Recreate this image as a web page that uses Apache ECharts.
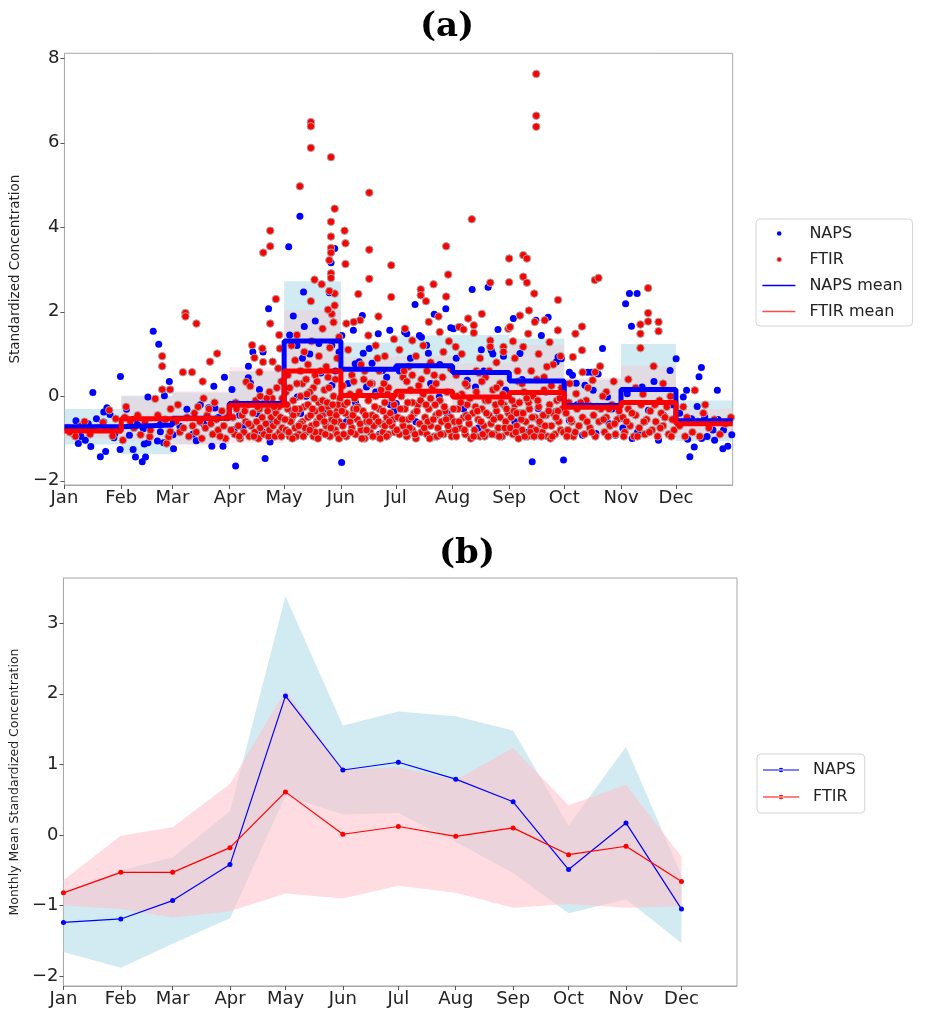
<!DOCTYPE html>
<html>
<head>
<meta charset="utf-8">
<script src="https://cdn.jsdelivr.net/npm/echarts@6/dist/echarts.min.js"></script>
<style>
html,body{margin:0;padding:0;background:#fff;}
#c{width:925px;height:1019px;}
</style>
</head>
<body>
<div id="c"></div>
<script>
// ---------- data ----------
const monthNames = ['Jan','Feb','Mar','Apr','May','Jun','Jul','Aug','Sep','Oct','Nov','Dec'];
const monthStarts = [0,31,59,90,120,151,181,212,243,273,304,334];
const yTicksA = [-2,0,2,4,6,8];
const yTicksB = [-2,-1,0,1,2,3];

// panel (a) monthly means (step lines)
const napsMeanA = [-0.72,-0.68,-0.52,-0.17,1.31,0.64,0.72,0.56,0.36,-0.22,0.16,-0.58];
const ftirMeanA = [-0.82,-0.53,-0.52,-0.21,0.60,0.02,0.12,-0.02,0.09,-0.26,-0.15,-0.65];
// panel (b) monthly means
const napsMeanB = [-1.24,-1.19,-0.93,-0.42,1.97,0.92,1.03,0.79,0.47,-0.49,0.17,-1.05];
const ftirMeanB = [-0.82,-0.53,-0.53,-0.18,0.61,0.01,0.12,-0.02,0.10,-0.28,-0.16,-0.66];
// monthly standard deviations (shaded bands)
const napsStd = [0.42,0.69,0.61,0.76,1.41,0.63,0.72,0.89,1.01,0.62,1.08,0.48];
const ftirStd = [0.18,0.52,0.64,0.90,1.44,0.91,0.84,0.80,1.13,0.70,0.87,0.35];

// panel (a) individual samples: [day of year, standardized concentration]
const napsPoints = [
[2,-0.78],[4,-0.87],[6.3,-0.58],[7.6,-1.12],[9,-0.95],[11.4,-1.04],[13,-0.65],[14.4,-1.19],[15.5,0.09],[17.5,-0.53],[19.6,-1.43],[21.5,-0.37],[21.5,-0.61],[22.5,-1.31],[23.2,-0.27],[24.9,-0.43],[27,-0.98],[27.6,-0.88],[30.4,-1.26],[30.6,0.47],
[33.9,-0.31],[35.5,-0.92],[37.5,-0.55],[37.5,-1.26],[38.8,-1.44],[39.8,-0.67],[42.5,-1.55],[43.1,-0.77],[43.6,-1.13],[44.3,-1.44],[45.6,-1.10],[45.6,-0.02],[48.5,1.54],[50.8,-1.06],[51.5,1.23],[52.4,-0.66],[52.4,-0.84],[54.2,-1.10],[54.6,0.01],[57.3,0.35],
[59.3,-0.91],[59.6,-1.24],[63.1,-0.71],[66.1,1.93],[66.9,-0.31],[70,-0.9],[72,-1.05],[74.2,-0.20],[76,-0.65],[78.8,-0.27],[80.5,-1.18],[81.6,0.24],[82.2,-0.28],[84,-0.5],[86.6,-1.18],[87.4,0.45],
[91.5,0.16],[92.6,-0.79],[93.5,-1.65],[93.9,-0.16],[95.7,-0.45],[97.5,-0.73],[100.4,0.44],[100.5,0.71],[101.6,0.31],[102.9,1.05],[105,-0.41],[106.5,0.16],[108.1,-0.84],[108.5,1.05],[109.6,-1.47],[111.5,2.07],[112.3,-1.08],[113.7,-0.61],[115,-0.3],[117.8,-0.84],
[122.5,3.54],[128.6,4.26],[147.6,3.50],[145.6,3.16],[130.6,2.47],[144.7,2.45],[125,1.9],[131,1.65],[137,1.78],[134,1.0],[123,1.45],[128,0.3],[132,0.0],[124,-0.35],[130,0.9],[140,0.55],[146,1.2],[148,0.6],[142,-0.4],[127,1.2],[139,1.25],[127.2,-0.02],[129,-0.41],[146.1,0.26],[150,1.05],
[151.4,-1.57],[151.5,1.44],[157.8,1.56],[162.7,1.91],[171.4,1.48],[177.7,1.56],[163.2,1.02],[166.5,1.13],[158.8,0.77],[161,0.82],[168,0.78],[173.7,0.61],[165,0.22],[170,0.1],[176,0.45],[155,0.3],[180,-0.35],[154,-0.6],[172,-0.9],[178,-0.2],[159,-0.15],
[191.5,2.17],[185.8,1.52],[187,1.48],[193.9,1.44],[195,1.4],[197.8,1.21],[198.8,1.02],[208.3,2.07],[202,1.94],[189,0.9],[205,0.75],[183,0.6],[200,0.3],[204.7,-0.02],[181.2,-0.17],[192,-0.6],[209,-0.4],[211,1.62],
[222.7,2.53],[216.4,1.64],[227.7,1.1],[233.1,1.09],[234,1.0],[236.8,1.58],[239.8,0.95],[231.4,2.58],[220,0.38],[224.5,0.22],[214,0.9],[229,0.6],[241,0.15],[218,-0.3],[226,-0.75],[237,-0.5],[212.5,1.6],
[245.2,1.84],[257.5,1.8],[264.2,1.87],[260.5,1.44],[269.6,0.93],[271.4,0.89],[255.5,-1.55],[248.8,1.01],[268.6,0.81],[272.6,-1.51],[267.7,-0.37],[258.8,-0.29],[250,0.4],[246,-0.6],[263,0.1],[253,-0.85],
[275.8,0.57],[277.5,0.5],[285.8,0.57],[288,0.57],[288.8,0.14],[284.3,0.26],[291.5,0.53],[296.6,-0.02],[283,-0.92],[290.3,-0.88],[297.5,-0.65],[301,-0.92],[302.9,-0.53],[293.9,1.13],[275.8,-0.57],[279.5,0.31],[280,-0.2],[299,-0.3],
[306.5,2.19],[308.6,2.43],[312.8,2.43],[309.7,1.66],[315.5,0.22],[330.8,0.61],[334.1,0.89],[324.5,-1.04],[310.1,-1.0],[307.4,0.06],[319,-0.33],[327.2,-0.45],[305,-0.75],[313,-0.85],[322,0.35],[332,-0.2],[317,-0.6],
[347.9,0.68],[346.6,0.46],[339.8,0.14],[356.6,0.14],[338,-0.02],[345.6,-0.24],[342.5,-0.53],[349.7,-0.49],[354.2,-0.8],[341.6,-1.43],[344,-1.2],[340.4,-1.02],[355.1,-1.04],[359.6,-1.24],[362.3,-1.18],[364.5,-0.91],[351,-0.95],[348,-1.0],[352,-0.65],[357,-0.55],[360,-0.8],[336,-0.4]
];

const ftirPoints = [
[2,-0.75],[3,-0.85],[6,-0.95],[9,-0.7],[11,-0.6],[14,-0.9],[18,-0.75],[21,-0.62],[24.5,-0.33],[26.3,-0.94],[28,-0.53],[30,-0.8],
[31.9,-1.04],[33,-0.5],[33.7,-0.25],[36,-0.6],[38,-0.75],[40,-0.45],[41.6,-0.91],[44,-0.6],[46.6,-0.96],[47,-0.8],[49.6,-0.06],[51,-0.45],[53.4,0.95],[53.4,0.71],[53.4,0.16],[55,-0.55],[55.8,-1.12],[56.9,-0.96],[57.7,0.16],[57.8,-0.84],[58,-0.3],
[66.1,1.97],[66.1,1.89],[72.1,1.72],[64.7,0.57],[69.7,0.57],[75.5,0.35],[79.5,0.82],[83.4,1.01],[61,-0.6],[63,-0.85],[65,-0.75],[67,-0.5],[68,-0.95],[70,-0.7],[71,-0.4],[72,-0.85],[74,-0.6],[75,-1.0],[77,-0.75],[78,-0.45],[80,-0.65],[81,-0.9],[83,-0.55],[84,-0.8],[86,-0.35],[87,-0.7],[88,-1.0],[89,-0.5],[73,-0.25],[82,-0.15],[85,-0.95],[79,-0.3],[62,-0.2],[76,-0.05],
[102.5,1.21],[103.8,0.91],[108.1,1.13],[112.4,1.72],[117.3,1.45],[117.7,1.13],[116.8,0.66],[113.7,0.82],[106.5,0.57],[108.5,0.81],[99.3,0.34],[101.5,0.24],[108.6,3.40],[112.4,3.55],[112.4,3.92],[115.5,2.30],
[92,-0.5],[93,-0.9],[94,-0.3],[95,-0.7],[96,-1.0],[97,-0.45],[98,-0.85],[99,-0.6],[100,-0.2],[101,-0.95],[102,-0.7],[103,-0.4],[104,-0.85],[104.5,-0.1],[105,-0.6],[106,-1.0],[106.5,-0.3],[107,-0.75],[108,-0.5],[109,-0.9],[109.5,-0.15],[110,-0.65],[111,-0.35],[111.5,-0.95],[112,-0.8],[113,-0.5],[113.5,-0.05],[114,-0.7],[115,-0.95],[115.5,-0.4],[116,-0.6],[117,-0.25],[117.5,-0.85],[118,-0.5],[119,-0.75],[119,-0.05],[118.5,0.35],[116,0.2],[112,0.1],[107,0.0],
[91,-0.8],[93.5,-0.15],[95.5,-0.95],[98.5,-0.35],[100.5,-0.65],[103.5,-0.95],[105.5,-0.25],[110.5,-0.05],[114.5,-0.25],[118.5,-0.95],
[134.6,6.49],[134.6,6.39],[134.6,5.88],[128.6,4.97],[145.6,5.66],[147.6,4.44],[145.6,4.13],[145.6,3.78],[145.6,3.51],[145.6,3.40],[144.7,3.22],[136.6,2.76],[140.5,2.65],[145.6,2.91],[145.6,2.80],[134.6,2.25],[147.6,2.43],[144.7,2.49],[147.6,2.15],
[124,1.2],[126,0.85],[127,1.45],[129,0.6],[131,1.05],[133,0.75],[135,1.3],[137,0.5],[139,0.95],[141,1.6],[143,0.7],[145,1.15],[147,1.75],[148,0.4],[149,0.9],[150,1.4],[146,1.95],[144,2.05],[130,0.3],[136,0.2],[122,0.5],
[121,-0.8],[122,-0.3],[123,-0.95],[124,-0.55],[125,-0.1],[126,-0.75],[127,-0.4],[128,-0.9],[129,0.0],[130,-0.6],[131,-0.25],[132,-0.85],[133,-0.5],[134,0.1],[135,-0.7],[136,-0.95],[137,-0.35],[138,-0.6],[139,-0.15],[140,-0.85],[141,-0.45],[142,0.15],[143,-0.7],[144,-0.25],[145,-0.95],[146,-0.55],[147,0.0],[148,-0.8],[149,-0.35],[150,-0.6],[150.5,-0.05],[127,0.3],[132,0.4],[138,0.35],[144,0.45],[121,0.1],[125,-0.45],[129,-0.65],[133,-0.2],[137,-0.85],[141,-0.1],[145,-0.4],[149,-0.9],
[121.5,-0.2],[123.5,-0.6],[126.5,-0.95],[128.5,-0.3],[131.5,-0.75],[134.5,-0.45],[136.5,-0.05],[139.5,-0.5],[142.5,-0.9],[144.5,0.2],[147.5,-0.6],[149.5,-0.2],
[120.5,-0.55],[122.5,-0.85],[124.5,-1.0],[126,-0.3],[128,-0.7],[130.5,-0.95],[132.5,0.05],[134,-0.8],[135.5,-0.3],[137.5,-0.65],[138.5,-1.0],[140.5,-0.3],[142,-0.6],[143.5,-0.15],[145.5,-0.75],[146.5,-0.2],[148.5,-0.45],[150,-1.0],[123,0.2],[140,0.6],
[153,3.92],[153.5,3.62],[153.5,3.13],[160.5,2.42],[166.5,4.82],[166.5,3.47],[166.5,2.78],[178.5,3.1],[178.5,2.35],[171.5,1.89],[161.5,1.8],[158,1.76],[154,1.72],[166,1.44],[170,1.2],[155,1.1],[175,0.95],[162,0.75],[157,0.5],[172,0.6],[180,1.35],[168,0.3],[152,0.25],[177,0.2],
[152,-0.7],[153,-0.2],[154,-0.95],[155,-0.45],[156,0.05],[157,-0.75],[158,-0.3],[159,-0.9],[160,-0.55],[161,0.1],[162,-0.8],[163,-0.35],[164,-1.0],[165,-0.6],[166,-0.1],[167,-0.85],[168,-0.45],[169,-0.7],[170,0.0],[171,-0.95],[172,-0.3],[173,-0.65],[174,-0.85],[175,-0.15],[176,-0.5],[177,-0.9],[178,-0.4],[179,-0.7],[180,-0.2],[160,-0.25],[165,-0.8],[170,-0.5],[175,-0.7],[156,-0.6],[167,0.3],[173,0.15],
[153.5,-0.4],[158.5,-0.05],[163.5,0.4],[168.5,-0.95],[174.5,0.3],[179.5,-0.55],[161.5,-0.65],[176.5,0.05],
[151.5,-0.35],[152.5,-0.9],[154.5,-0.15],[156.5,-0.85],[157.5,-0.45],[159.5,-0.3],[162.5,-1.0],[164.5,-0.45],[166.5,-0.6],[169.5,-0.25],[171.5,-0.6],[172.5,-1.0],[174,-0.35],[176,-0.95],[177.5,-0.6],[179,-0.05],[180.5,-0.85],[158,0.35],[164,0.6],[171,0.9],
[194.6,2.53],[194.6,2.39],[197.5,2.25],[201.6,2.65],[208.5,3.55],[209.6,2.88],[208.5,2.36],[199,1.76],[205,1.52],[204.3,1.89],[190,1.32],[186,1.6],[183,1.1],[192,0.95],[196,1.2],[200,0.8],[207,1.05],[210,1.3],[188,0.7],[185,0.45],[202,0.5],[211,0.65],
[182,-0.5],[183,-0.9],[184,0.0],[185,-0.7],[186,-0.3],[187,-0.95],[188,-0.55],[189,0.15],[190,-0.8],[191,-0.4],[192,-1.0],[193,-0.2],[194,-0.65],[195,-0.85],[196,0.05],[197,-0.5],[198,-0.9],[199,-0.3],[200,-0.7],[201,0.2],[202,-0.95],[203,-0.45],[204,-0.75],[205,-0.1],[206,-0.6],[207,-0.9],[208,-0.35],[209,0.1],[210,-0.8],[211,-0.5],[187,0.35],[195,0.4],[203,0.3],[190,-0.15],[200,-0.05],
[183.5,-0.3],[188.5,-0.75],[193.5,0.25],[198.5,-0.6],[203.5,-0.95],[208.5,-0.55],[185.5,0.6],[206.5,0.45],
[181.5,-0.8],[184.5,-0.55],[186.5,-0.85],[187.5,-0.15],[189.5,-0.5],[191.5,-0.9],[192.5,-0.35],[194.5,-0.1],[196.5,-0.75],[197.5,-0.2],[199.5,-1.0],[201.5,-0.55],[202.5,-0.2],[204.5,-0.4],[205.5,-0.9],[207.5,-0.25],[209.5,-0.7],[211.5,-0.95],[190,0.5],[198,0.6],
[222.5,4.19],[232.6,2.69],[220.5,1.84],[215.5,1.64],[218,1.58],[223.6,1.68],[223.6,1.5],[213.7,1.17],[232.6,1.32],[232.6,1.17],[239.8,1.17],[239.8,1.05],[242.5,1.6],[228,1.95],[227,0.9],[236,0.8],[217,1.0],[225,0.6],[230,0.45],[214,0.5],[238,0.3],[220,0.25],
[213,-0.6],[214,-0.95],[215,-0.3],[216,-0.75],[217,0.05],[218,-0.5],[219,-0.9],[220,-0.2],[221,-0.65],[222,-1.0],[223,-0.4],[224,-0.8],[225,0.1],[226,-0.55],[227,-0.95],[228,-0.3],[229,-0.7],[230,-0.1],[231,-0.85],[232,-0.45],[233,-0.65],[234,0.15],[235,-0.9],[236,-0.35],[237,-0.75],[238,-0.5],[239,-0.95],[240,-0.2],[241,-0.6],[242,-0.85],[219,0.3],[228,0.35],[236,0.2],
[214.5,0.0],[219.5,-0.45],[224.5,-0.25],[229.5,-0.95],[234.5,-0.55],[239.5,0.05],[242.5,-0.4],[226.5,0.55],
[212.5,-0.3],[213.5,-0.8],[215.5,-0.6],[216.5,-0.15],[218.5,-0.8],[220.5,-0.5],[221.5,-0.05],[223.5,-0.95],[225.5,-0.35],[227.5,-0.6],[228.5,-0.9],[230.5,-0.4],[231.5,-0.1],[233.5,-0.9],[235.5,-0.2],[237.5,-0.95],[238.5,-0.15],[240.5,-0.75],[241.5,-0.3],[232,0.6],
[257.7,7.63],[257.7,6.64],[257.7,6.38],[242.9,3.26],[242.9,2.7],[250.6,3.34],[252.6,3.26],[250.6,2.83],[252.6,2.69],[256.6,2.43],[269.6,2.28],[243.4,1.64],[248.8,1.91],[250.6,1.17],[253.3,1.48],[253.7,2.03],[256.9,1.76],[262.3,1.8],[265,1.28],[269.5,1.56],[246,0.9],[259,1.0],[267,0.75],[255,0.6],[262,0.45],[271,0.95],[248,0.35],[245,1.3],
[244,-0.5],[245,-0.9],[246,-0.2],[247,-0.7],[248,-1.0],[249,-0.4],[250,-0.8],[251,0.1],[252,-0.6],[253,-0.95],[254,-0.3],[255,-0.75],[256,0.0],[257,-0.5],[258,-0.9],[259,-0.25],[260,-0.65],[261,-0.85],[262,0.15],[263,-0.45],[264,-0.95],[265,-0.2],[266,-0.7],[267,-0.4],[268,-0.9],[269,-0.1],[270,-0.6],[271,-0.8],[272,-0.3],[250,0.3],[258,0.4],[266,0.25],
[245.5,-0.35],[249.5,-0.55],[253.5,-0.15],[257.5,-0.8],[261.5,-0.45],[265.5,-1.0],[269.5,-0.35],[271.5,0.2],[247.5,0.6],[263.5,0.7],
[243.5,-0.75],[244.5,-0.1],[246.5,-0.85],[247,-0.4],[248.5,-0.15],[250.5,-0.4],[251.5,-0.95],[252.5,-0.05],[254.5,-0.85],[255.5,-0.5],[256.5,-0.95],[258.5,-0.1],[259.5,-0.6],[260.5,-0.95],[262.5,-0.7],[264.5,-0.35],[266.5,-0.95],[268.5,-0.5],[270.5,-0.05],[272.5,-0.85],
[289.7,2.75],[291.7,2.8],[279.1,1.48],[282.7,1.65],[282.7,1.09],[277.7,0.93],[292.6,0.71],[288.5,0.38],[283,0.57],[289.9,0.57],[279.5,0.06],[286,0.2],[296,0.1],[300,0.35],[276,0.3],
[274,-0.4],[275,-0.8],[277,-0.6],[278,-0.95],[280,-0.3],[281,-0.7],[283,-0.5],[284,-0.9],[286,-0.2],[287,-0.75],[289,-0.45],[290,-0.95],[292,-0.6],[293,-0.3],[295,-0.85],[296,-0.5],[298,-0.7],[299,-0.2],[301,-0.9],[302,-0.55],[303,-0.35],[285,-0.1],[294,0.0],[275.5,-0.15],[297,-0.95],
[274.5,-0.95],[276.5,-0.55],[279,-0.85],[282,-0.15],[285.5,-0.6],[288,-0.85],[291,-0.25],[294.5,-0.55],[297.5,-0.3],[300.5,-0.65],
[318.8,2.56],[318.8,1.97],[318.8,1.77],[314.6,1.7],[314.6,1.48],[324.5,1.76],[324.5,1.54],[314.6,1.14],[321.8,0.71],[308,0.4],[312,0.2],[327,0.3],[331,0.0],
[305,-0.5],[306,-0.85],[308,-0.3],[309,-0.7],[311,-0.95],[312,-0.45],[314,-0.75],[315,-0.2],[317,-0.9],[318,-0.55],[320,-0.35],[321,-0.8],[323,-0.6],[324,-0.95],[326,-0.4],[327,-0.7],[329,-0.25],[330,-0.9],[332,-0.55],[333,-0.8],[316,0.05],[325,-0.1],
[305.5,-0.95],[307,-0.6],[310,-0.4],[313,-0.95],[316.5,-0.6],[319.5,-0.85],[322.5,-0.2],[325.5,-0.75],[328,-0.5],[331.5,-0.95],
[344.3,0.14],[338,-0.25],[336,-0.7],[340,-0.5],[343,-0.85],[346,-0.6],[349,-0.4],[352,-0.75],[355,-0.55],[358,-0.9],[361,-0.65],[364,-0.5],[339,-0.95],[347,-0.95],[350,-0.2]
];

// ---------- helpers ----------
const monthEnds = monthStarts.slice(1).concat([365]);
const minusFmt = v => String(v).replace('-', '\u2212');
const monthFmt = v => monthNames[monthStarts.indexOf(v)];
const FONT = 'DejaVu Sans';
const AXIS_GREY = '#a8a8a8';
const TXT = '#222';

function rectBand(means, stds, color, z) {
  return {
    type: 'custom', xAxisIndex: 0, yAxisIndex: 0, z: z, silent: true,
    data: means.map((m, i) => [monthStarts[i], monthEnds[i], m - stds[i], m + stds[i]]),
    encode: { x: [0, 1], y: [2, 3] },
    renderItem: function (params, api) {
      const a = api.coord([api.value(0), api.value(3)]);
      const b = api.coord([api.value(1), api.value(2)]);
      return { type: 'rect', shape: { x: a[0], y: a[1], width: b[0] - a[0], height: b[1] - a[1] }, style: { fill: color } };
    }
  };
}
function polyBand(means, stds, color, z) {
  return {
    type: 'custom', xAxisIndex: 1, yAxisIndex: 1, z: z, silent: true,
    data: means.map((m, i) => [monthStarts[i], m - stds[i], m + stds[i]]),
    encode: { x: 0, y: [1, 2] },
    renderItem: function (params, api) {
      if (params.dataIndex !== 0) return null;
      const up = means.map((m, i) => api.coord([monthStarts[i], m + stds[i]]));
      const lo = means.map((m, i) => api.coord([monthStarts[i], m - stds[i]])).reverse();
      return { type: 'polygon', shape: { points: up.concat(lo) }, style: { fill: color } };
    }
  };
}
function xAxisCfg(gridIndex, max) {
  return {
    type: 'value', gridIndex: gridIndex, min: 0, max: max,
    axisLine: { show: true, onZero: false, lineStyle: { color: AXIS_GREY, width: 1 } },
    axisTick: { show: true, length: 4, lineStyle: { color: '#555' }, customValues: monthStarts },
    axisLabel: { customValues: monthStarts, formatter: monthFmt, fontFamily: FONT, fontSize: 18, color: TXT, margin: 4 },
    splitLine: { show: false }
  };
}
function yAxisCfg(gridIndex, min, max, ticks, name, nameSize, nameGap) {
  return {
    type: 'value', gridIndex: gridIndex, min: min, max: max,
    name: name, nameLocation: 'middle', nameGap: nameGap,
    nameTextStyle: { fontFamily: FONT, fontSize: nameSize, color: TXT },
    axisLine: { show: true, onZero: false, lineStyle: { color: AXIS_GREY, width: 1 } },
    axisTick: { show: true, length: 4, lineStyle: { color: '#555' }, customValues: ticks },
    axisLabel: { customValues: ticks, formatter: minusFmt, fontFamily: FONT, fontSize: 18, color: TXT, margin: 5 },
    splitLine: { show: false }
  };
}

const dotIconA = 'path://M0,0M42,14M14.5,7a2.3,2.3 0 1 0 4.6,0a2.3,2.3 0 1 0 -4.6,0Z';
const lineIconA = 'path://M0,0M42,14M0,6.3L33,6.3L33,7.7L0,7.7Z';
const lineDotIconB = 'path://M0,0M45,14M0,6.4L36,6.4L36,7.6L0,7.6ZM15.7,7a2.3,2.3 0 1 0 4.6,0a2.3,2.3 0 1 0 -4.6,0Z';

const chart = echarts.init(document.getElementById('c'), null, { renderer: 'canvas' });
chart.setOption({
  animation: false,
  backgroundColor: '#fff',
  title: [
    { text: '(a)', left: 442, top: 5, textAlign: 'center', padding: 5,
      textStyle: { fontFamily: 'DejaVu Serif', fontWeight: 'bold', fontSize: 34, lineHeight: 34, color: '#000' } },
    { text: '(b)', left: 462, top: 532, textAlign: 'center', padding: 5,
      textStyle: { fontFamily: 'DejaVu Serif', fontWeight: 'bold', fontSize: 34, lineHeight: 34, color: '#000' } }
  ],
  grid: [
    { left: 59, top: 53.3, width: 673.7, height: 431.7, show: true, borderColor: AXIS_GREY, borderWidth: 1, backgroundColor: 'transparent' },
    { left: 59, top: 578, width: 678, height: 408, show: true, borderColor: AXIS_GREY, borderWidth: 1, backgroundColor: 'transparent' }
  ],
  xAxis: [ xAxisCfg(0, 365), xAxisCfg(1, 364) ],
  yAxis: [
    yAxisCfg(0, -2.1, 8.118, yTicksA, 'Standardized Concentration', 13.5, 32),
    yAxisCfg(1, -2.14, 3.64, yTicksB, 'Monthly Mean Standardized Concentration', 12.5, 28)
  ],
  legend: [
    {
      orient: 'vertical', left: 756, top: 219, padding: [6.5, 10, 6.5, 6],
      itemWidth: 42, itemHeight: 14, itemGap: 10, selectedMode: false,
      backgroundColor: '#fff', borderColor: '#d4d4d4', borderWidth: 1, borderRadius: 4,
      textStyle: { fontFamily: FONT, fontSize: 16, color: TXT, lineHeight: 14 },
      data: [
        { name: 'NAPS', icon: dotIconA, itemStyle: { color: '#0000ff', borderWidth: 0 } },
        { name: 'FTIR', icon: dotIconA, itemStyle: { color: '#ff0000', borderColor: '#a6a6a6', borderWidth: 0.8 } },
        { name: 'NAPS mean', icon: lineIconA, itemStyle: { color: '#0000ff', borderWidth: 0 } },
        { name: 'FTIR mean', icon: lineIconA, itemStyle: { color: '#ff4d4d', borderWidth: 0 } }
      ]
    },
    {
      orient: 'vertical', left: 757, top: 754, padding: [8, 9, 8, 6],
      itemWidth: 45, itemHeight: 14, itemGap: 11, selectedMode: false,
      backgroundColor: '#fff', borderColor: '#d4d4d4', borderWidth: 1, borderRadius: 4,
      textStyle: { fontFamily: FONT, fontSize: 16, color: TXT, lineHeight: 14 },
      data: [
        { name: 'NAPS', icon: lineDotIconB, itemStyle: { color: '#0000ff', borderWidth: 0 } },
        { name: 'FTIR', icon: lineDotIconB, itemStyle: { color: '#ff0000', borderWidth: 0 } }
      ]
    }
  ],
  series: [
    { type: 'scatter', name: 'NAPS', xAxisIndex: 0, yAxisIndex: 0, z: 3, data: napsPoints,
      symbol: 'circle', symbolSize: 7, itemStyle: { color: '#0000ff', opacity: 1 } },
    { type: 'scatter', name: 'FTIR', xAxisIndex: 0, yAxisIndex: 0, z: 4, data: ftirPoints,
      symbol: 'circle', symbolSize: 7.5, itemStyle: { color: '#ff0000', borderColor: '#a6a6a6', borderWidth: 1, opacity: 1 } },
    rectBand(napsMeanA, napsStd, 'rgba(173,216,230,0.55)', 1),
    rectBand(ftirMeanA, ftirStd, 'rgba(255,192,203,0.35)', 2),
    { type: 'line', name: 'NAPS mean', xAxisIndex: 0, yAxisIndex: 0, z: 5, step: 'end',
      symbol: 'none', showSymbol: false,
      data: monthStarts.map((d, i) => [d, napsMeanA[i]]).concat([[365, napsMeanA[11]]]),
      lineStyle: { color: '#0000ff', width: 5 }, itemStyle: { color: '#0000ff' } },
    { type: 'line', name: 'FTIR mean', xAxisIndex: 0, yAxisIndex: 0, z: 6, step: 'end',
      symbol: 'none', showSymbol: false,
      data: monthStarts.map((d, i) => [d, ftirMeanA[i]]).concat([[365, ftirMeanA[11]]]),
      lineStyle: { color: '#ff0000', width: 5 }, itemStyle: { color: '#ff0000' } },
    polyBand(napsMeanB, napsStd, 'rgba(173,216,230,0.55)', 1),
    polyBand(ftirMeanB, ftirStd, 'rgba(255,192,203,0.55)', 2),
    { type: 'line', name: 'NAPS', xAxisIndex: 1, yAxisIndex: 1, z: 5,
      data: monthStarts.map((d, i) => [d, napsMeanB[i]]),
      symbol: 'circle', symbolSize: 5, showSymbol: true,
      lineStyle: { color: '#0000ff', width: 1.2 }, itemStyle: { color: '#0000ff' } },
    { type: 'line', name: 'FTIR', xAxisIndex: 1, yAxisIndex: 1, z: 6,
      data: monthStarts.map((d, i) => [d, ftirMeanB[i]]),
      symbol: 'circle', symbolSize: 5, showSymbol: true,
      lineStyle: { color: '#ff0000', width: 1.2 }, itemStyle: { color: '#ff0000' } }
  ]
});
</script>
</body>
</html>
